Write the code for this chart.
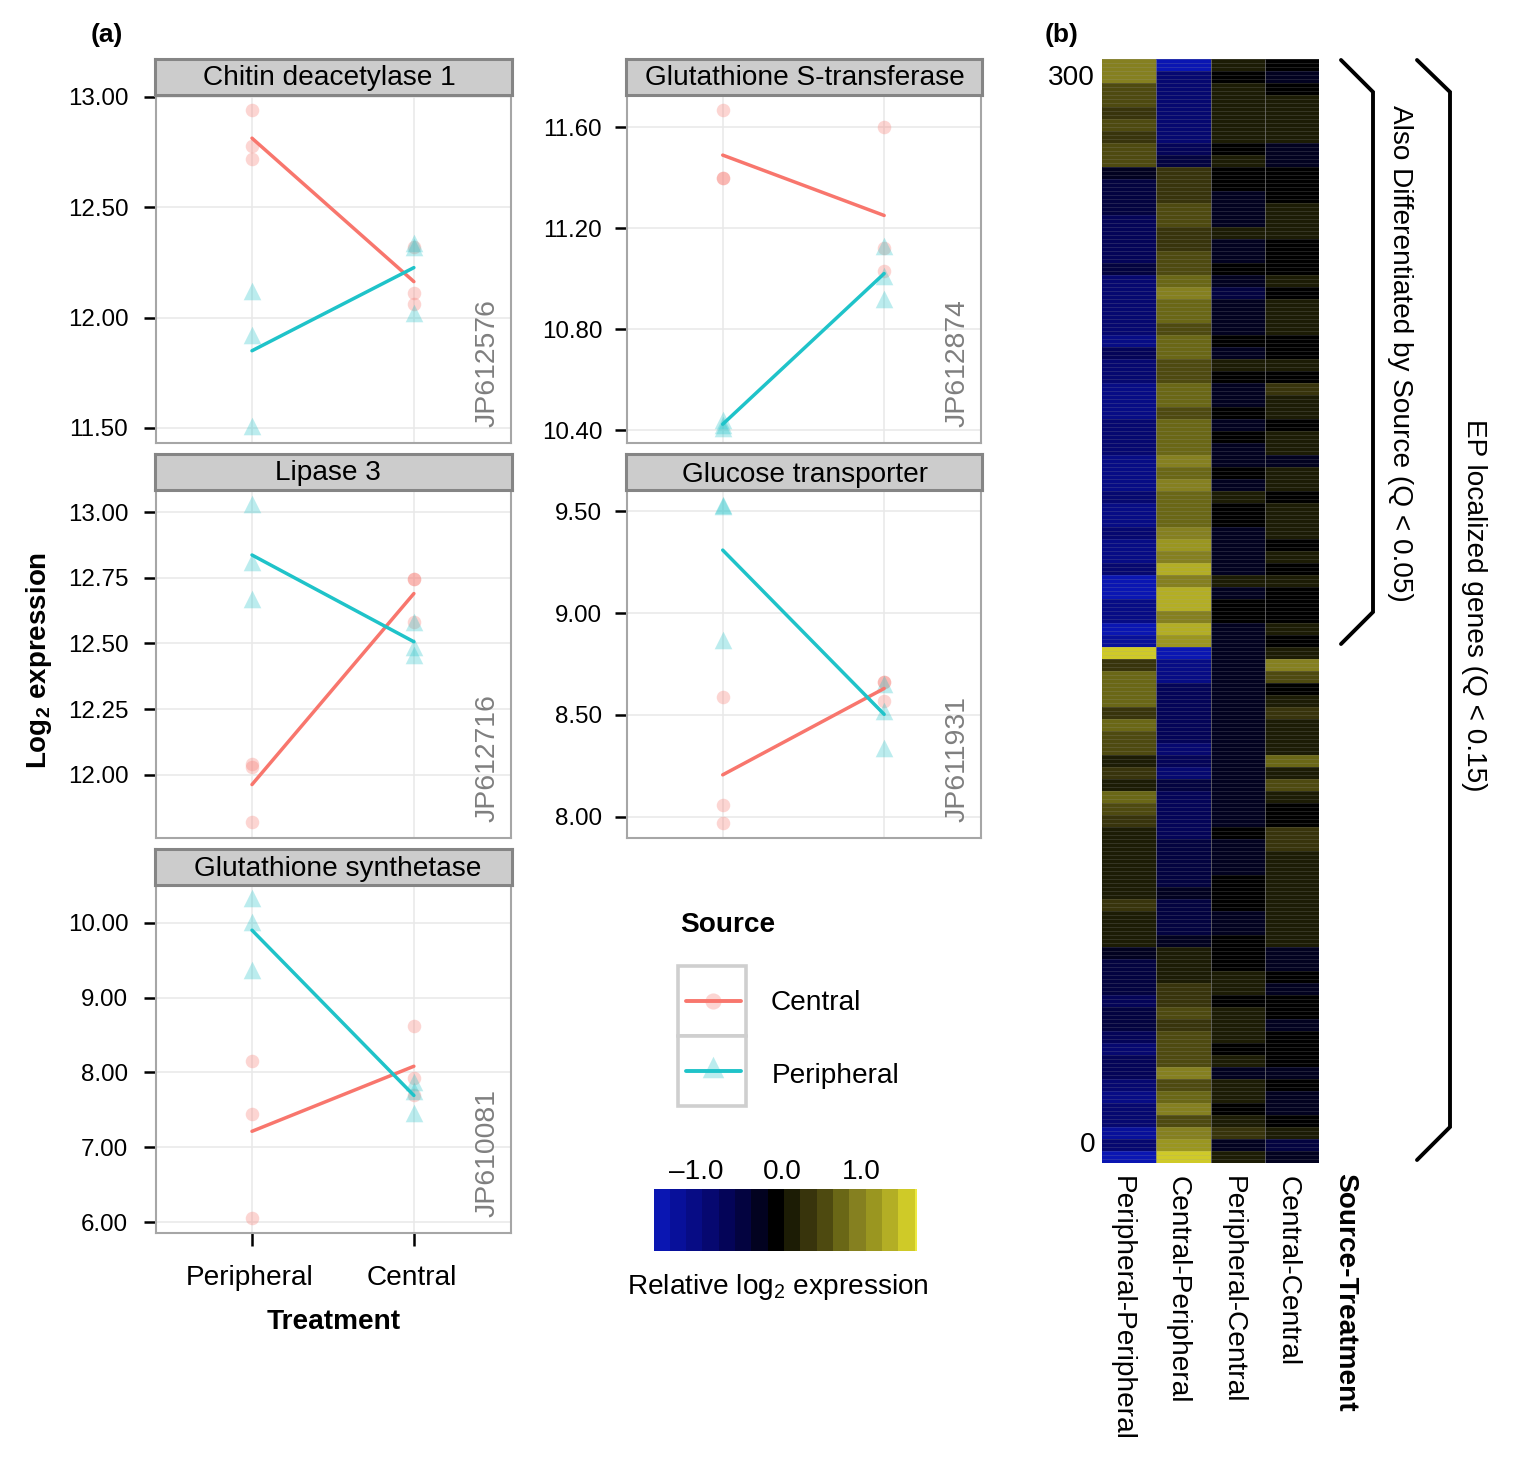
import numpy as np, pandas as pd, matplotlib
matplotlib.use("Agg")
import matplotlib.pyplot as plt, seaborn as sns
from matplotlib.colors import ListedColormap, BoundaryNorm
from matplotlib.patches import Rectangle
from matplotlib.transforms import ScaledTranslation

treatment_levels = ["Peripheral", "Central"]
source_levels = ["Central", "Peripheral"]
replicate_treatments = ["Peripheral"] * 3 + ["Central"] * 3

chitin_central = [12.94, 12.78, 12.72, 12.32, 12.11, 12.06]
chitin_peripheral = [12.12, 11.92, 11.51, 12.34, 12.32, 12.02]
gst_central = [11.667, 11.40, 11.40, 11.60, 11.12, 11.03]
gst_peripheral = [10.44, 10.42, 10.41, 11.13, 11.01, 10.92]
lipase_central = [12.04, 12.03, 11.82, 12.745, 12.745, 12.58]
lipase_peripheral = [13.03, 12.81, 12.67, 12.58, 12.485, 12.455]
glucose_central = [8.59, 8.06, 7.97, 8.66, 8.66, 8.57]
glucose_peripheral = [9.53, 9.525, 8.87, 8.65, 8.52, 8.34]
synthetase_central = [8.15, 7.44, 6.05, 8.62, 7.93, 7.70]
synthetase_peripheral = [10.33, 10.01, 9.37, 7.87, 7.75, 7.46]

panel_titles = ["Chitin deacetylase 1", "Glutathione S-transferase", "Lipase 3", "Glucose transporter", "Glutathione synthetase"]
panel_ids = ["JP612576", "JP612874", "JP612716", "JP611931", "JP610081"]
chitin_ticks = [11.5, 12.0, 12.5, 13.0]
gst_ticks = [10.4, 10.8, 11.2, 11.6]
lipase_ticks = [12.0, 12.25, 12.5, 12.75, 13.0]
glucose_ticks = [8.0, 8.5, 9.0, 9.5]
synthetase_ticks = [6.0, 7.0, 8.0, 9.0, 10.0]

heat_labels = ["Peripheral-Peripheral", "Central-Peripheral", "Peripheral-Central", "Central-Central"]
heat_pp = [.95,.9,.55,.55,.4,.55,.4,.5,.5,-.35,-.4,-.45,-.55,-.7,-.65,-.7,-.6,-.55,-.85,-.8,-.9,-.85,-.95,-1.1,
 -.7,-.9,-.8,-1.0,-1.0,-1.0,-.9,-.85,-.85,-1.0,-1.0,-1.1,-.9,-1.15,-1.1,-.95,-1.0,-1.1,-.95,-1.45,-1.45,-1.1,
 -1.1,-1.45,-1.3,1.5,.35,.8,.7,.7,.3,.75,.6,.55,.2,.35,.1,.7,.55,.4,.2,.2,.2,.2,.2,.1,
 .35,.2,.15,.05,-.2,-.4,-.45,-.55,-.6,-.55,-.5,-.7,-.8,-.7,-.7,-.8,-1.0,-.85,-.95,-1.3,-.8,-1.45]
heat_cp = [-1.45,-.95,-.95,-.9,-.9,-.8,-.95,-.75,-.55,.3,.3,.35,.45,.6,.35,.4,.5,.55,.65,.85,.75,.7,.55,.7,
 .65,.55,.55,.8,.65,.6,.7,.75,.8,.95,.8,.9,.7,.8,.7,.9,1.1,.9,1.3,1.0,1.3,1.25,
 .9,1.25,1.2,-1.5,-1.1,-1.0,-.75,-.75,-.7,-.7,-.75,-.8,-.7,-.8,-.55,-.65,-.7,-.7,-.65,-.5,-.5,-.5,-.4,-.35,
 -.45,-.45,-.55,-.35,.2,.2,.2,.35,.4,.45,.35,.55,.55,.55,.9,.55,.7,.85,.55,.9,1.05,1.45]
heat_pc = [.1,-.05,.05,.05,.05,.1,.05,0,.05,0,0,-.2,-.2,-.25,.05,-.2,-.2,-.05,-.2,-.45,-.2,-.2,-.2,0,
 -.2,.05,0,-.2,-.2,0,-.2,0,-.2,-.35,-.05,-.2,.05,0,0,-.2,-.2,-.2,-.25,.1,-.2,0,
 0,-.2,-.2,-.3,-.3,-.25,-.25,-.2,-.2,-.2,-.2,-.2,-.2,-.2,-.25,-.2,-.2,-.2,0,-.2,-.2,-.2,-.05,-.05,
 -.05,-.2,-.2,0,0,0,.05,.05,0,.05,.1,.05,0,.05,-.2,.15,.05,0,.15,.25,-.2,.05]
heat_cc = [-.1,-.2,-.1,.05,.05,.05,.1,-.2,-.2,0,0,0,.05,.1,.1,-.05,-.1,0,.05,0,.05,.05,.05,0,
 0,.05,0,.25,.05,.05,-.1,.1,.1,-.25,.05,.1,0,.1,.1,.05,0,.05,-.15,.05,0,-.1,
 -.15,.05,0,.1,.85,.55,-.1,.1,.25,.1,.05,.05,.65,.15,.6,.1,0,0,.25,.25,.1,.1,.05,.05,
 .1,.1,.05,.1,-.2,-.25,-.15,-.2,-.1,-.15,-.25,0,0,-.15,-.35,-.15,-.2,-.2,-.05,.1,-.45,-.3]
bin_colors = ["#0a16b2", "#08109a", "#070c85", "#060870", "#040458", "#030340", "#020220", "#000000",
              "#1c1c05", "#38340c", "#4e4a10", "#6a6716", "#858020", "#9a9620", "#b3ae25", "#cfca28", "#edea40"]
bin_edges = [-1.6, -1.38, -1.18, -.98, -.78, -.58, -.38, -.18, .02, .22, .42, .62, .82, 1.02, 1.22, 1.42, 1.62, 1.65]

W, H = 1522, 1462
sns.set_theme(style="white")
plt.rcParams["font.family"] = ["Liberation Sans", "DejaVu Sans"]
plt.rcParams["mathtext.fontset"] = "custom"
plt.rcParams["mathtext.rm"] = "Liberation Sans"
plt.rcParams["mathtext.bf"] = "Liberation Sans:bold"
plt.rcParams["mathtext.default"] = "regular"
for key in ("text.color", "xtick.color", "ytick.color", "axes.labelcolor"):
    plt.rcParams[key] = "black"
fig = plt.figure(figsize=(W / 100, H / 100), dpi=100, facecolor="white")

def px_axes(x0, y0, x1, y1, **kw):
    return fig.add_axes([x0 / W, 1 - y1 / H, (x1 - x0) / W, (y1 - y0) / H], **kw)

def nudge(label, dx_px):
    label.set_transform(label.get_transform() + ScaledTranslation(dx_px / 100, 0, fig.dpi_scale_trans))

palette = {"Central": "#F8766D", "Peripheral": "#1FC3C9"}
specs = [
    (chitin_central, chitin_peripheral, chitin_ticks, (156, 95, 511, 443), (11.432, 13.009), 329.5, 76),
    (gst_central, gst_peripheral, gst_ticks, (627, 95, 981, 443), (10.349, 11.727), 805, 76),
    (lipase_central, lipase_peripheral, lipase_ticks, (156, 490, 511, 838), (11.76, 13.084), 328, 471),
    (glucose_central, glucose_peripheral, glucose_ticks, (627, 490, 981, 838), (7.897, 9.603), 805, 473),
    (synthetase_central, synthetase_peripheral, synthetase_ticks, (156, 885, 511, 1233), (5.853, 10.508), 338, 867),
]
for i, (cen, per, ticks, box, ylim, title_x, title_y) in enumerate(specs):
    ax = px_axes(*box)
    df = pd.DataFrame({"Treatment": replicate_treatments * 2,
                       "Source": ["Central"] * 6 + ["Peripheral"] * 6,
                       "expr": list(cen) + list(per)})
    ax.grid(True, color="#e8e8e8", lw=1.1)
    ax.set_axisbelow(True)
    sns.scatterplot(data=df[df.Source == "Central"], x="Treatment", y="expr", color=palette["Central"], marker="o",
                    s=95, alpha=.3, linewidth=0, ax=ax, legend=False, zorder=2)
    sns.scatterplot(data=df[df.Source == "Peripheral"], x="Treatment", y="expr", color=palette["Peripheral"], marker="^",
                    s=160, alpha=.3, linewidth=0, ax=ax, legend=False, zorder=2)
    sns.lineplot(data=df, x="Treatment", y="expr", hue="Source", hue_order=source_levels, palette=palette,
                 errorbar=None, linewidth=2.5, ax=ax, legend=False, zorder=3)
    ax.set_xlim(-0.593, 1.6)
    ax.set_ylim(*ylim)
    ax.set_yticks(ticks)
    ax.set_yticklabels([f"{t:.2f}" for t in ticks], fontsize=17.4)
    ax.set_xlabel(""); ax.set_ylabel("")
    ax.set_xticks([0, 1])
    if i == 4:
        ax.set_xticklabels(treatment_levels, fontsize=20.2)
        ax.tick_params(axis="x", length=9, width=1.8, color="black", pad=14, bottom=True)
        for lab in ax.get_xticklabels():
            nudge(lab, -2)
    else:
        ax.set_xticklabels([])
        ax.tick_params(axis="x", length=0)
    ax.tick_params(axis="y", length=9, width=1.8, color="black", left=True, pad=11 if box[0] < 300 else 9)
    for s in ax.spines.values():
        s.set_color("#a6a6a6"); s.set_linewidth(1.5)
    ax.text(.934, .045, panel_ids[i], rotation=90, transform=ax.transAxes, ha="center", va="bottom",
            fontsize=20.4, color="#7f7f7f")
    sx = px_axes(box[0] - 1, box[1] - 36, box[2] + 1, box[1])
    sx.set_facecolor("#cccccc"); sx.set_xticks([]); sx.set_yticks([])
    for s in sx.spines.values():
        s.set_color("#858585"); s.set_linewidth(2.2)
    sx.text((title_x - box[0] + 1) / (box[2] - box[0] + 2), 1 - (title_y + 2 - box[1] + 36) / 36, panel_titles[i],
            transform=sx.transAxes, ha="center", va="center", fontsize=20.2, color="black")

# heat map
heat = pd.DataFrame({"Peripheral-Peripheral": heat_pp, "Central-Peripheral": heat_cp,
                     "Peripheral-Central": heat_pc, "Central-Central": heat_cc})
cmap = ListedColormap(bin_colors)
norm = BoundaryNorm(bin_edges, cmap.N)
hx = px_axes(1102, 59, 1319, 1163)
sns.heatmap(heat, ax=hx, cmap=cmap, norm=norm, cbar=False, xticklabels=heat_labels)
n_rows = len(heat_pp)
hx.hlines(np.arange(0, n_rows, 1 / 3), 0, 4, color="#a0a0a0", lw=.5, alpha=.28)
hx.vlines([1, 2, 3], 0, n_rows, color="#808080", lw=.7, alpha=.7)
hx.set_yticks([1.58, 90.5])
hx.set_yticklabels(["300", "0"], fontsize=20.2, rotation=0)
hx.tick_params(axis="y", length=0, pad=5)
hx.tick_params(axis="x", length=0, pad=9)
hx.set_xticklabels(heat_labels, rotation=270, fontsize=20.2, ha="center", va="top")
for lab, dx in zip(hx.get_xticklabels(), [-7, -6, -5, -4]):
    nudge(lab, dx)
hx.set_ylabel("")

# colour key
cx = px_axes(654, 1189, 917, 1251)
sw_vals = np.array([[(a + b) / 2 for a, b in zip(bin_edges[:-1], bin_edges[1:])]])
cx.pcolormesh(bin_edges, [0, 1], sw_vals, cmap=cmap, norm=norm)
cx.set_xlim(-1.57, 1.65)
cx.set_yticks([])
cx.xaxis.tick_top()
cx.set_xticks([-1.05, 0, 0.97])
cx.set_xticklabels(["\u20131.0", "0.0", "1.0"], fontsize=20.2)
cx.tick_params(axis="x", length=0, pad=3)
for s in cx.spines.values():
    s.set_visible(False)

# overlay: legend, annotations, brackets
ov = fig.add_axes([0, 0, 1, 1], facecolor="none")
ov.set_xlim(0, W); ov.set_ylim(H, 0); ov.axis("off")
ov.text(91, 35, "(a)", fontsize=19, fontweight="bold", va="center")
ov.text(1045, 35, "(b)", fontsize=19, fontweight="bold", va="center")
ov.text(39, 660, "Log$_{\\mathdefault{2}}$ expression", rotation=90, fontsize=20, fontweight="bold", ha="center", va="center")
ov.text(334, 1322, "Treatment", fontsize=20.2, fontweight="bold", ha="center", va="center")
ov.text(680, 925, "Source", fontsize=20.2, fontweight="bold", va="center")
for y0 in (966, 1036):
    ov.add_patch(Rectangle((678, y0), 68, 70, fc="white", ec="#cfcfcf", lw=2.6))
ov.scatter([713], [1001], s=135, marker="o", color=palette["Central"], alpha=.3, linewidth=0)
ov.scatter([713], [1067], s=240, marker="^", color=palette["Peripheral"], alpha=.3, linewidth=0)
ov.plot([686, 741], [1001, 1001], color=palette["Central"], lw=2.8)
ov.plot([686, 741], [1071, 1071], color=palette["Peripheral"], lw=2.8)
ov.text(771, 1003, "Central", fontsize=20.2, va="center")
ov.text(772, 1076, "Peripheral", fontsize=20.2, va="center")
ov.text(627, 1287, "Relative log$_{\\mathdefault{2}}$ expression", fontsize=20.2, va="center")
ov.text(1345, 1173, "Source-Treatment", rotation=270, fontsize=20.2, fontweight="bold", ha="center", va="top")
ov.plot([1341, 1373, 1373, 1341], [60, 92, 612, 644], color="black", lw=2.8, solid_joinstyle="miter")
ov.plot([1417, 1450, 1450, 1417], [60, 92, 1127, 1160], color="black", lw=2.8, solid_joinstyle="miter")
ov.text(1400, 353, "Also Differentiated by Source (Q < 0.05)", rotation=270, fontsize=20.2, ha="center", va="center")
ov.text(1474, 605, "EP localized genes (Q < 0.15)", rotation=270, fontsize=20.2, ha="center", va="center")

fig.savefig("out.png", dpi=100, facecolor="white")
